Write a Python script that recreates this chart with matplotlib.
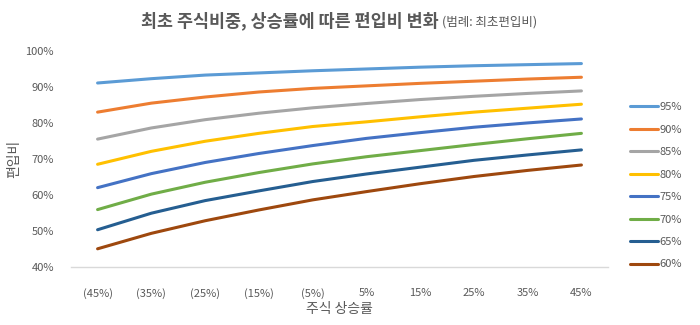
import matplotlib
matplotlib.use("Agg")
import matplotlib.pyplot as plt

plt.rcParams['font.family'] = ['Noto Sans CJK KR', 'DejaVu Sans']

categories = ["(45%)", "(35%)", "(25%)", "(15%)", "(5%)", "5%", "15%", "25%", "35%", "45%"]
series_names = ["95%", "90%", "85%", "80%", "75%", "70%", "65%", "60%"]
s95 = [91.2, 92.4, 93.4, 94.0, 94.6, 95.1, 95.6, 96.0, 96.3, 96.6]
s90 = [83.1, 85.6, 87.3, 88.7, 89.7, 90.4, 91.1, 91.7, 92.3, 92.8]
s85 = [75.6, 78.7, 81.0, 82.8, 84.3, 85.5, 86.6, 87.5, 88.3, 89.0]
s80 = [68.6, 72.2, 75.0, 77.2, 79.1, 80.4, 81.8, 83.1, 84.2, 85.3]
s75 = [62.1, 66.0, 69.1, 71.6, 73.8, 75.8, 77.4, 78.9, 80.1, 81.2]
s70 = [56.0, 60.3, 63.6, 66.3, 68.7, 70.7, 72.4, 74.1, 75.7, 77.2]
s65 = [50.4, 55.0, 58.5, 61.2, 63.8, 65.9, 67.8, 69.7, 71.2, 72.6]
s60 = [45.1, 49.4, 52.9, 55.9, 58.7, 61.0, 63.2, 65.2, 66.9, 68.4]
series = [s95, s90, s85, s80, s75, s70, s65, s60]
colors = ["#5B9BD5", "#ED7D31", "#A5A5A5", "#FFC000", "#4472C4", "#70AD47", "#255E91", "#9E480E"]
yticks = [40, 50, 60, 70, 80, 90, 100]

fig = plt.figure(figsize=(7, 3.25), dpi=100)
ax = fig.add_axes([0.101, 0.178, 0.768, 0.664])

x = list(range(len(categories)))
for name, vals, c in zip(series_names, series, colors):
    ax.plot(x, vals, color=c, lw=2.2, label=name, solid_capstyle='round')

ax.set_xlim(-0.5, len(categories) - 0.5)
ax.set_ylim(40, 100)
ax.set_yticks(yticks)
ax.set_yticklabels([f"{v}%" for v in yticks])
ax.set_xticks(x)
ax.set_xticklabels(categories)
ax.tick_params(axis='both', length=0, labelsize=8, colors='#595959')
ax.tick_params(axis='x', pad=15)
ax.tick_params(axis='y', pad=12)
for s in ['top', 'right', 'left']:
    ax.spines[s].set_visible(False)
ax.spines['bottom'].set_color('#D9D9D9')
ax.spines['bottom'].set_linewidth(1)

ax.set_xlabel("주식 상승률", fontsize=10, color='#595959', labelpad=2)
fig.text(0.02, 0.511, "편입비", rotation=90, fontsize=10, color='#595959', ha='center', va='center')

leg = fig.legend(loc='center left', bbox_to_anchor=(0.885, 0.428), frameon=False,
                 fontsize=8, labelcolor='#595959', handlelength=2.6, handletextpad=0.1,
                 labelspacing=1.12)

fig.text(0.626, 0.935, "최초 주식비중, 상승률에 따른 편입비 변화", fontsize=12.5, fontweight='bold',
         color='#595959', ha='right', va='center')
fig.text(0.631, 0.932, "(범례: 최초편입비)", fontsize=9, color='#595959', ha='left', va='center')

fig.savefig("out.png", dpi=100)
